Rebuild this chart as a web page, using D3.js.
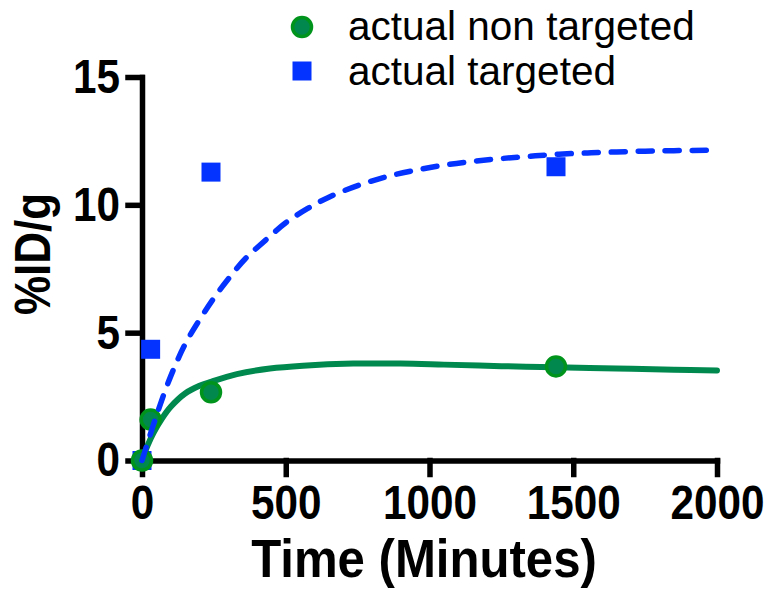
<!DOCTYPE html>
<html>
<head>
<meta charset="utf-8">
<script src="https://cdn.jsdelivr.net/npm/d3@7"></script>
<style>
  body { margin: 0; background: #fff; }
  svg { display: block; font-family: "Liberation Sans", Arial, sans-serif; }
  .axis path, .axis line { stroke: #000; stroke-width: 5.5; stroke-linecap: square; }
  .axis text { font-size: 48px; font-weight: bold; fill: #000; }
</style>
</head>
<body>
<script>
// measured points
var times = [0, 30, 240, 1440];
var nonTargeted = [0, 1.6, 2.67, 3.68];
var targeted = [0, 4.35, 11.28, 11.49];

// fitted curves
var fitNonX = [0, 20, 40, 70, 100, 150, 200, 240, 330, 445, 560, 735, 900, 1050, 1250, 1440, 1650, 1850, 2000];
var fitNonY = [0, 0.6, 1.08, 1.65, 2.1, 2.62, 2.92, 3.08, 3.38, 3.6, 3.71, 3.79, 3.79, 3.75, 3.69, 3.65, 3.6, 3.55, 3.52];
var fitTarX = [0, 50, 100, 150, 200, 250, 300, 360, 430, 500, 575, 650, 750, 850, 950, 1050, 1150, 1250, 1350, 1450, 1550, 1650, 1750, 1850, 2000];
var fitTarY = [0, 1.75, 3.3, 4.55, 5.5, 6.35, 7.1, 7.9, 8.62, 9.3, 9.85, 10.3, 10.75, 11.1, 11.35, 11.55, 11.7, 11.81, 11.9, 11.98, 12.03, 12.07, 12.1, 12.12, 12.14];

var xTicks = [0, 500, 1000, 1500, 2000];
var yTicks = [0, 5, 10, 15];
var legendLabels = ['actual non targeted', 'actual targeted'];

var blue = '#0433ff',
    greenLine = '#00894f',
    greenFill = '#00884e',
    greenStroke = '#00941c';

var w = 774, h = 589;
var svg = d3.select('body').append('svg')
    .attr('width', w)
    .attr('height', h);

var x = d3.scaleLinear().domain([0, 2000]).range([142, 717]);
var y = d3.scaleLinear().domain([0, 15]).range([460.5, 77]);
var squeeze = 0.88; // tick labels are narrow in the original

// axes
var xAxis = svg.append('g')
    .attr('class', 'axis')
    .attr('transform', 'translate(0,' + y(0) + ')')
    .call(d3.axisBottom(x).tickValues(xTicks).tickFormat(d3.format('d'))
        .tickSize(14).tickSizeOuter(0).tickPadding(10));
xAxis.selectAll('line').attr('stroke-linecap', 'butt');
xAxis.selectAll('text').attr('transform', 'scale(' + squeeze + ',1)');

var yAxis = svg.append('g')
    .attr('class', 'axis')
    .attr('transform', 'translate(' + x(0) + ',0)')
    .call(d3.axisLeft(y).tickValues(yTicks).tickFormat(d3.format('d'))
        .tickSize(14).tickSizeOuter(0).tickPadding(8));
yAxis.selectAll('line').attr('stroke-linecap', 'butt');
yAxis.selectAll('text')
    .attr('x', -22 / squeeze)
    .attr('transform', 'scale(' + squeeze + ',1)');

d3.selectAll('.axis path').attr('fill', 'none');

// axis titles
svg.append('text')
    .attr('transform', 'translate(424,577) scale(0.91,1)')
    .attr('text-anchor', 'middle')
    .attr('font-size', 54)
    .attr('font-weight', 'bold')
    .text('Time (Minutes)');

svg.append('text')
    .attr('transform', 'translate(50,254) rotate(-90) scale(0.88,1)')
    .attr('text-anchor', 'middle')
    .attr('font-size', 50)
    .attr('font-weight', 'bold')
    .text('%ID/g');

// targeted squares
svg.selectAll('rect.pt')
    .data(times)
    .enter().append('rect')
    .attr('class', 'pt')
    .attr('x', function(d) { return x(d) - 9.5; })
    .attr('y', function(d, i) { return y(targeted[i]) - 9.5; })
    .attr('width', 19)
    .attr('height', 19)
    .attr('fill', blue);

var line = d3.line()
    .x(function(d) { return x(d[0]); })
    .y(function(d) { return y(d[1]); })
    .curve(d3.curveCatmullRom.alpha(0.5));

svg.append('path')
    .datum(d3.zip(fitNonX, fitNonY))
    .attr('d', line)
    .attr('fill', 'none')
    .attr('stroke', greenLine)
    .attr('stroke-width', 6)
    .attr('stroke-linecap', 'round');

// non targeted circles
svg.selectAll('circle.pt')
    .data(times)
    .enter().append('circle')
    .attr('class', 'pt')
    .attr('cx', function(d) { return x(d); })
    .attr('cy', function(d, i) { return y(nonTargeted[i]); })
    .attr('r', 9.5)
    .attr('fill', greenFill)
    .attr('stroke', greenStroke)
    .attr('stroke-width', 3.5);

svg.append('path')
    .datum(d3.zip(fitTarX, fitTarY))
    .attr('d', line)
    .attr('fill', 'none')
    .attr('stroke', blue)
    .attr('stroke-width', 5.5)
    .attr('stroke-linecap', 'round')
    .attr('stroke-dasharray', '14,13');

// legend
var legend = svg.append('g');
legend.append('circle')
    .attr('cx', 302).attr('cy', 27).attr('r', 9.5)
    .attr('fill', greenFill).attr('stroke', greenStroke).attr('stroke-width', 3.5);
legend.append('rect')
    .attr('x', 292.5).attr('y', 61.5).attr('width', 19).attr('height', 19)
    .attr('fill', blue);
legend.selectAll('text')
    .data(legendLabels)
    .enter().append('text')
    .attr('x', 348)
    .attr('y', function(d, i) { return 40 + i * 45; })
    .attr('font-size', 40.5)
    .attr('fill', '#000')
    .text(function(d) { return d; });
</script>
</body>
</html>
